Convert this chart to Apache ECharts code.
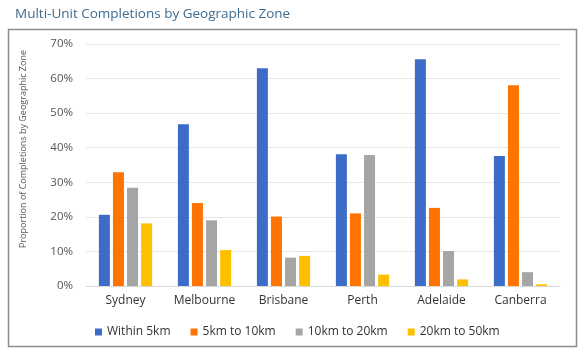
<!DOCTYPE html>
<html lang="en">

<head>
    <meta charset="UTF-8">
    <title>Multi-Unit Completions by Geographic Zone</title>
    <script src="https://cdn.jsdelivr.net/npm/echarts@6/dist/echarts.min.js"></script>
    <style>
        * {
            margin: 0;
            padding: 0;
        }

        #main {
            width: 580px;
            height: 352px;
            background: #fff;
        }
    </style>
</head>

<body>
    <div id="main"></div>
    <script>
        let cities = ['Sydney', 'Melbourne', 'Brisbane', 'Perth', 'Adelaide', 'Canberra'];
        let zoneNames = ['Within 5km', '5km to 10km', '10km to 20km', '20km to 50km'];
        let within5 = [0.206, 0.468, 0.630, 0.381, 0.656, 0.376];
        let from5to10 = [0.329, 0.240, 0.201, 0.210, 0.226, 0.581];
        let from10to20 = [0.284, 0.190, 0.082, 0.379, 0.101, 0.040];
        let from20to50 = [0.181, 0.104, 0.087, 0.033, 0.019, 0.005];
        let yTicks = [0, 0.1, 0.2, 0.3, 0.4, 0.5, 0.6, 0.7];
        let colors = ['#3d6cc8', '#ff7300', '#a5a5a5', '#ffc000'];

        let myChart = echarts.init(document.getElementById('main'));
        let allValues = [within5, from5to10, from10to20, from20to50];

        let series = zoneNames.map((name, i) => ({
            name: name,
            type: 'bar',
            data: allValues[i],
            barWidth: 11,
            barGap: '28%',
            itemStyle: { color: colors[i] }
        }));

        let option = {
            animation: false,
            color: colors,
            title: {
                text: 'Multi-Unit Completions by Geographic Zone',
                left: 10,
                top: 2,
                textStyle: {
                    fontFamily: 'Open Sans',
                    fontSize: 13.5,
                    fontWeight: 'normal',
                    color: '#3f6a8c'
                }
            },
            graphic: [{
                type: 'rect',
                shape: { x: 8.5, y: 29.5, width: 568, height: 317 },
                style: { fill: 'none', stroke: '#8c8c8c', lineWidth: 1.5 },
                silent: true
            }, {
                // y axis title, placed a bit above the grid centre like the original
                type: 'text',
                x: 23,
                y: 149,
                rotation: Math.PI / 2,
                style: {
                    text: 'Proportion of Completions by Geographic Zone',
                    fontFamily: 'Open Sans',
                    fontSize: 9,
                    fill: '#555',
                    align: 'center',
                    verticalAlign: 'middle'
                },
                silent: true
            }],
            legend: {
                data: zoneNames,
                left: 90,
                top: 321,
                itemWidth: 7,
                itemHeight: 7,
                itemGap: 20,
                icon: 'rect',
                textStyle: {
                    fontFamily: 'Open Sans',
                    fontSize: 12,
                    color: '#333'
                }
            },
            grid: {
                left: 86,
                right: 20,
                top: 44,
                bottom: 66
            },
            xAxis: {
                type: 'category',
                data: cities,
                axisTick: { show: false },
                axisLine: { lineStyle: { color: '#d9d9d9' } },
                axisLabel: {
                    interval: 0,
                    margin: 9,
                    fontFamily: 'Open Sans',
                    fontSize: 12,
                    color: '#333'
                }
            },
            yAxis: {
                type: 'value',
                min: yTicks[0],
                max: yTicks[yTicks.length - 1],
                interval: 0.1,
                axisLabel: {
                    margin: 13,
                    fontFamily: 'Open Sans',
                    fontSize: 11.5,
                    color: '#555',
                    formatter: v => Math.round(v * 100) + '%'
                },
                splitLine: { lineStyle: { color: '#e6e6e6' } }
            },
            series: series
        };

        myChart.setOption(option);
    </script>
</body>

</html>
